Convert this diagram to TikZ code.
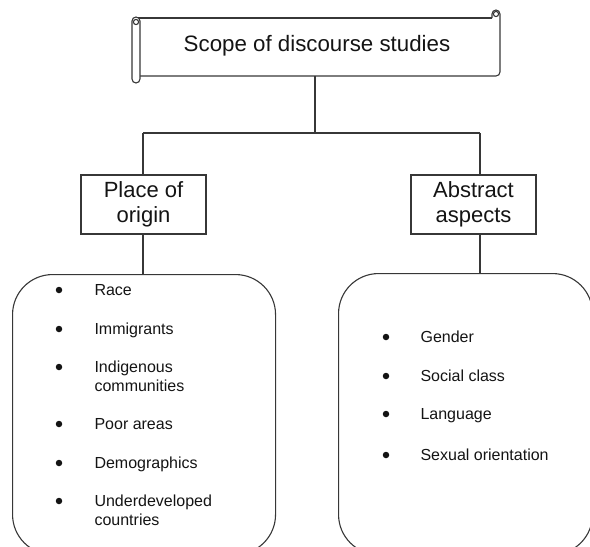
\documentclass[tikz,border=0pt]{standalone}
\usepackage{fontspec}
\setmainfont{Liberation Sans}
\definecolor{ln}{RGB}{55,55,55}
\definecolor{tx}{RGB}{20,20,20}
\begin{document}
\begin{tikzpicture}[x=1pt,y=-1pt,line width=1.1pt,color=ln,
  plainbox/.style={draw=ln,line width=1.1pt,minimum width=125pt,minimum height=59pt,align=center,inner sep=0pt,
    text=tx,font=\fontsize{22}{25}\selectfont},
  listbox/.style={draw=ln,line width=1.1pt,rounded corners=40pt,anchor=north west,inner sep=0pt},
  itemtext/.style={anchor=base west,inner sep=0pt,align=left,text=tx,font=\fontsize{16}{19}\selectfont},
  dotb/.style={circle,fill=tx,draw=none,minimum size=6.5pt,inner sep=0pt}]
\useasboundingbox (0,0) rectangle (590,547);
\clip (0,0) rectangle (590,547);
% scroll
\draw[rounded corners=4pt] (492,18) -- (492,10) -- (500,10) -- (500,76) -- (136,76);
\draw (136,18) -- (492,18);
\draw[fill=white,rounded corners=4pt] (132,17) rectangle (140,83);
\draw (136,22) circle (2.6);
\draw (496,14) circle (2.6);
\node[inner sep=0pt,text=tx,font=\fontsize{22.3}{26}\selectfont] (title) at (317,46) {Scope of discourse studies};
% second level
\node[plainbox] (place) at (143.5,204.5) {Place of\\origin};
\node[plainbox] (abstract) at (473.5,204.5) {Abstract\\aspects};
% list boxes
\node[listbox,minimum width=263pt,minimum height=280pt] (leftbox) at (12,274) {};
\node[listbox,minimum width=254pt,minimum height=281pt] (rightbox) at (338,273) {};
% connectors
\coordinate (scrollbot) at (315,76);
\coordinate (hub) at (315,133);
\coordinate (hubL) at (143,133);
\coordinate (hubR) at (480,133);
\draw (scrollbot) -- (hub);
\draw (hubL) -- (hubR);
\draw (hubL) -- (place.north -| hubL);
\draw (hubR) -- (abstract.north -| hubR);
\draw (place.south -| hubL) -- (leftbox.north -| hubL);
\draw (abstract.south -| hubR) -- (rightbox.north -| hubR);
% left list (base anchor = baseline of last line)
\node[dotb] (lb1) at (59,290) {};
\node[itemtext] (li1) at (94,295) {Race};
\node[dotb] (lb2) at (59,329) {};
\node[itemtext] (li2) at (94,334) {Immigrants};
\node[dotb] (lb3) at (59,367) {};
\node[itemtext] (li3) at (94,391) {Indigenous\\communities};
\node[dotb] (lb4) at (59,424) {};
\node[itemtext] (li4) at (94,429) {Poor areas};
\node[dotb] (lb5) at (59,463) {};
\node[itemtext] (li5) at (94,468) {Demographics};
\node[dotb] (lb6) at (59,501) {};
\node[itemtext] (li6) at (94,525) {Underdeveloped\\countries};
% right list
\node[dotb] (rb1) at (386,337) {};
\node[itemtext] (ri1) at (420,342) {Gender};
\node[dotb] (rb2) at (386,376) {};
\node[itemtext] (ri2) at (420,381) {Social class};
\node[dotb] (rb3) at (386,414) {};
\node[itemtext] (ri3) at (420,419) {Language};
\node[dotb] (rb4) at (386,455) {};
\node[itemtext] (ri4) at (420,460) {Sexual orientation};
\end{tikzpicture}
\end{document}
